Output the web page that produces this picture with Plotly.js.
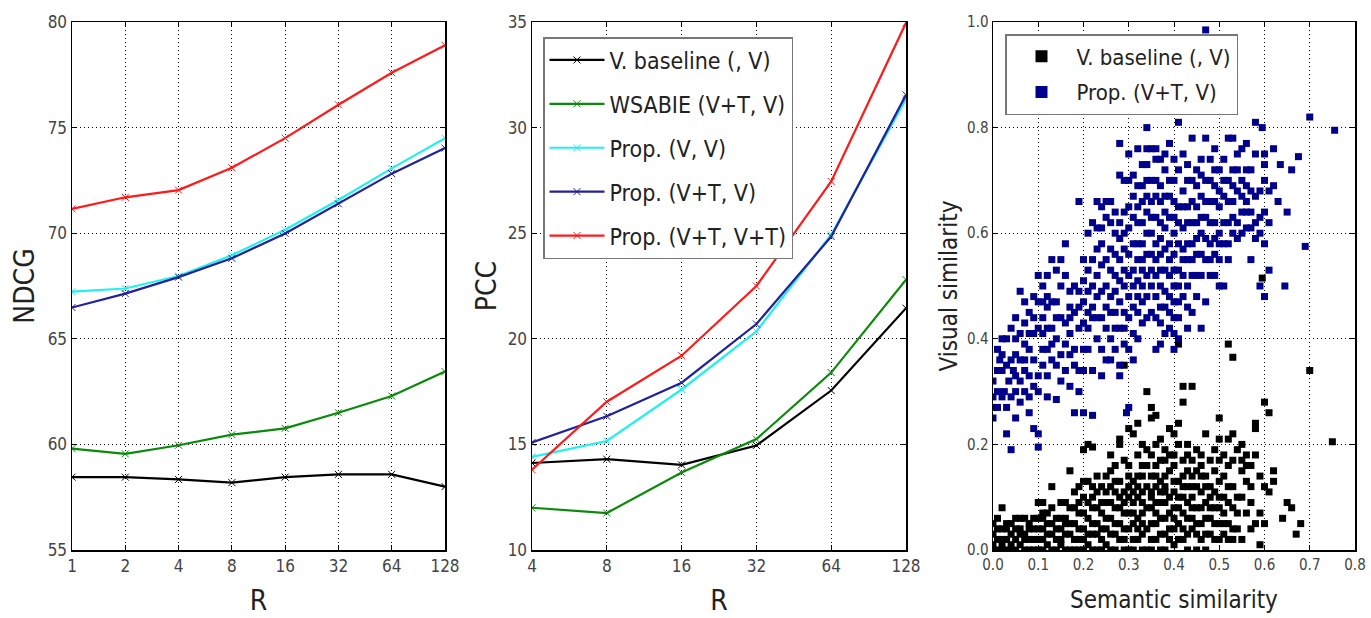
<!DOCTYPE html>
<html>
<head>
<meta charset="utf-8">
<script src="https://cdn.plot.ly/plotly-3.0.1.min.js"></script>
<style>html,body{margin:0;padding:0;background:#fff;}#chart{width:1371px;height:618px;}</style>
</head>
<body>
<div id="chart"></div>
<script>
// ---- Panel 1: NDCG vs R ----
const R1 = [1, 2, 4, 8, 16, 32, 64, 128];
const ndcgBaseline = [58.45, 58.45, 58.34, 58.19, 58.45, 58.58, 58.58, 58.0];
const ndcgWsabie   = [59.8, 59.55, 59.96, 60.46, 60.76, 61.5, 62.29, 63.45];
const ndcgPropVV   = [67.23, 67.38, 67.97, 68.96, 70.16, 71.57, 73.07, 74.5];
const ndcgPropVTV  = [66.48, 67.14, 67.92, 68.81, 69.99, 71.39, 72.82, 74.03];
const ndcgPropVTVT = [71.15, 71.7, 72.04, 73.1, 74.5, 76.08, 77.6, 78.9];

// ---- Panel 2: PCC vs R ----
const R2 = [4, 8, 16, 32, 64, 128];
const pccBaseline = [14.12, 14.3, 14.03, 14.95, 17.55, 21.45];
const pccWsabie   = [12.0, 11.75, 13.67, 15.25, 18.4, 22.8];
const pccPropVV   = [14.41, 15.16, 17.6, 20.35, 24.93, 31.36];
const pccPropVTV  = [15.09, 16.33, 17.92, 20.7, 24.84, 31.55];
const pccPropVTVT = [13.8, 17.02, 19.2, 22.5, 27.45, 34.96];

const seriesNames = ["V. baseline (, V)", "WSABIE (V+T, V)", "Prop. (V, V)", "Prop. (V+T, V)", "Prop. (V+T, V+T)"];
const seriesColors = ["#000000", "#0a8a0a", "#22f0f0", "#22229a", "#ff1a1a"];

const xTicks1 = ["1", "2", "4", "8", "16", "32", "64", "128"];
const xTicks2 = ["4", "8", "16", "32", "64", "128"];

// ---- Panel 3: scatter (semantic similarity, visual similarity) ----
const baselinePoints = [
 [0.75,0.205],[0.70,0.34],[0.595,0.515],[0.52,0.39],[0.53,0.365],[0.41,0.39],[0.29,0.35],[0.60,0.28],[0.61,0.26],
 [0.58,0.24],[0.58,0.23],[0.50,0.25],[0.44,0.31],[0.42,0.31],[0.42,0.28],[0.34,0.30],[0.35,0.27],[0.36,0.255],[0.35,0.25],
 [0.67,0.03],[0.68,0.05],[0.66,0.08],[0.65,0.09],[0.64,0.06],[0.62,0.13],[0.62,0.15],[0.61,0.11],[0.60,0.12],[0.59,0.07],
 [0.60,0.05],[0.59,0.01],[0.57,0.04],[0.58,0.05],[0.02,0.08],[0.10,0.09],[0.11,0.09],[0.17,0.15],[0.20,0.19],[0.21,0.20],
 [0.22,0.195],[0.23,0.14],[0.26,0.18],[0.28,0.20],[0.28,0.21],[0.30,0.23],[0.31,0.22],[0.32,0.24],[0.33,0.20],[0.37,0.21],
 [0.38,0.17],[0.39,0.23],[0.40,0.22],[0.41,0.24],[0.43,0.20],[0.45,0.19],[0.46,0.18],[0.47,0.22],[0.48,0.17],[0.50,0.21],
 [0.51,0.14],[0.52,0.21],[0.53,0.22],[0.54,0.19],[0.55,0.20],[0.56,0.18],[0.57,0.16],[0.55,0.15],[0.52,0.16],[0.50,0.17],
 [0.49,0.15],[0.47,0.14],[0.45,0.15],[0.44,0.17],[0.42,0.14],[0.40,0.16],[0.38,0.12],[0.36,0.16],[0.35,0.14],[0.33,0.16],
 [0.31,0.13],[0.29,0.17],[0.27,0.13],[0.25,0.11],
 [0.00,0.01],[0.00,0.03],[0.01,0.02],[0.01,0.00],[0.02,0.04],[0.02,0.01],[0.03,0.02],[0.03,0.05],[0.04,0.00],[0.04,0.03],
 [0.05,0.06],[0.05,0.02],[0.06,0.04],[0.06,0.01],[0.07,0.03],[0.07,0.06],[0.08,0.02],[0.08,0.05],[0.09,0.00],[0.09,0.04],
 [0.10,0.06],[0.10,0.02],[0.11,0.04],[0.11,0.07],[0.12,0.01],[0.12,0.05],[0.13,0.03],[0.13,0.08],[0.14,0.06],[0.14,0.02],
 [0.15,0.04],[0.15,0.09],[0.16,0.00],[0.16,0.06],[0.17,0.03],[0.17,0.08],[0.18,0.05],[0.18,0.11],[0.19,0.02],[0.19,0.07],
 [0.20,0.04],[0.20,0.10],[0.21,0.06],[0.21,0.01],[0.22,0.08],[0.22,0.03],[0.23,0.05],[0.23,0.11],[0.24,0.07],[0.24,0.02],
 [0.25,0.09],[0.25,0.04],[0.26,0.06],[0.26,0.12],[0.27,0.03],[0.27,0.08],[0.28,0.10],[0.28,0.05],[0.29,0.00],[0.29,0.07],
 [0.30,0.12],[0.30,0.04],[0.31,0.09],[0.31,0.02],[0.32,0.06],[0.32,0.14],[0.33,0.11],[0.33,0.03],[0.34,0.08],[0.34,0.16],
 [0.35,0.05],[0.35,0.11],[0.36,0.09],[0.36,0.02],[0.37,0.13],[0.37,0.06],[0.38,0.09],[0.38,0.03],[0.39,0.15],[0.39,0.07],
 [0.40,0.11],[0.40,0.04],[0.41,0.08],[0.41,0.13],[0.42,0.02],[0.42,0.10],[0.43,0.06],[0.43,0.15],[0.44,0.12],[0.44,0.04],
 [0.45,0.08],[0.45,0.00],[0.46,0.11],[0.46,0.05],[0.47,0.09],[0.47,0.03],[0.48,0.12],[0.48,0.06],[0.49,0.08],[0.49,0.02],
 [0.50,0.10],[0.50,0.05],[0.51,0.07],[0.51,0.03],[0.52,0.09],[0.53,0.04],[0.53,0.12],[0.54,0.07],[0.55,0.10],[0.55,0.02],
 [0.56,0.13],[0.57,0.09],
 [0.02,0.02],[0.03,0.00],[0.05,0.00],[0.06,0.03],[0.08,0.00],[0.10,0.00],[0.11,0.02],[0.12,0.03],[0.14,0.00],[0.15,0.01],
 [0.16,0.03],[0.17,0.00],[0.18,0.02],[0.19,0.04],[0.20,0.00],[0.20,0.07],[0.21,0.03],[0.22,0.05],[0.23,0.00],[0.24,0.04],
 [0.25,0.01],[0.26,0.03],[0.27,0.05],[0.28,0.02],[0.29,0.04],[0.30,0.07],[0.31,0.05],[0.32,0.02],[0.33,0.07],[0.34,0.04],
 [0.35,0.08],[0.36,0.05],[0.37,0.09],[0.38,0.06],[0.39,0.04],[0.40,0.08],[0.41,0.05],[0.42,0.07],[0.43,0.03],[0.44,0.08],
 [0.13,0.12],[0.16,0.09],[0.19,0.12],[0.21,0.13],[0.24,0.12],[0.27,0.16],[0.28,0.13],[0.30,0.16],[0.32,0.18],[0.34,0.19],
 [0.36,0.20],[0.38,0.19],[0.40,0.18],[0.42,0.17],[0.44,0.14],[0.46,0.14],[0.48,0.10],[0.50,0.13],[0.36,0.12],[0.38,0.14],
 [0.31,0.11],[0.29,0.11],[0.35,0.02],[0.40,0.01],[0.45,0.03],[0.47,0.00],[0.52,0.02],[0.54,0.04],[0.43,0.00],[0.37,0.00],
 [0.33,0.00],
 [0.00,0.00],[0.00,0.05],[0.01,0.04],[0.01,0.06],[0.02,0.00],[0.03,0.04],[0.04,0.05],[0.04,0.01],[0.05,0.04],[0.06,0.06],
 [0.07,0.00],[0.07,0.02],[0.08,0.04],[0.09,0.02],[0.09,0.06],[0.10,0.04],[0.11,0.00],[0.11,0.06],[0.12,0.07],[0.13,0.00],
 [0.13,0.05],[0.14,0.04],[0.15,0.06],[0.15,0.02],[0.16,0.05],[0.17,0.05],[0.18,0.00],[0.18,0.08],[0.19,0.00],[0.19,0.09],
 [0.20,0.02],[0.21,0.09],[0.22,0.00],[0.22,0.10],[0.23,0.03],[0.23,0.08],[0.24,0.00],[0.24,0.09],[0.25,0.06],[0.26,0.00],
 [0.26,0.09],[0.27,0.00],[0.27,0.11],[0.28,0.08],[0.29,0.02],[0.29,0.09],[0.30,0.00],[0.30,0.10],[0.31,0.00],[0.31,0.07],
 [0.32,0.04],[0.32,0.10],[0.33,0.05],[0.33,0.09],[0.34,0.00],[0.34,0.12],[0.35,0.00],[0.35,0.10],[0.36,0.07],[0.36,0.14],
 [0.37,0.03],[0.37,0.11],[0.38,0.00],[0.38,0.11],[0.39,0.02],[0.39,0.10],[0.40,0.06],[0.40,0.13],[0.41,0.02],[0.41,0.10],
 [0.42,0.04],[0.42,0.12],[0.43,0.09],[0.43,0.12],[0.44,0.06],[0.44,0.10],[0.45,0.05],[0.45,0.12],[0.46,0.08],[0.46,0.02],
 [0.47,0.06],[0.47,0.12],[0.48,0.03],[0.48,0.08],[0.49,0.05],[0.49,0.11],[0.50,0.02],[0.50,0.08],[0.51,0.05],[0.51,0.10],
 [0.52,0.05],[0.52,0.12],[0.53,0.02],[0.53,0.08],[0.54,0.10],[0.56,0.07],[0.56,0.16],[0.57,0.12],[0.58,0.18],[0.59,0.14],
 [0.55,0.17],[0.53,0.17],[0.51,0.18],[0.49,0.19],[0.46,0.16],[0.43,0.18],[0.41,0.20],[0.39,0.18],[0.37,0.17],[0.35,0.18],
 [0.33,0.14],[0.32,0.12],[0.30,0.14],[0.26,0.15],[0.25,0.14],[0.22,0.12],[0.20,0.13]
];

const propPoints = [
 [0.47,0.985],[0.70,0.82],[0.755,0.795],[0.58,0.81],[0.595,0.80],[0.41,0.81],[0.34,0.80],[0.69,0.575],[0.645,0.50],
 [0.60,0.48],[0.59,0.50],[0.66,0.72],[0.675,0.745],[0.65,0.64],[0.63,0.66],[0.62,0.76],[0.62,0.69],[0.60,0.73],[0.635,0.73],
 [0.00,0.25],[0.00,0.32],[0.01,0.34],[0.03,0.22],[0.04,0.19],[0.10,0.195],[0.09,0.23],[0.10,0.22],[0.01,0.27],[0.02,0.29],
 [0.05,0.25],[0.06,0.32],[0.07,0.34],[0.04,0.36],[0.02,0.37],[0.03,0.40],[0.05,0.40],[0.06,0.41],[0.08,0.38],[0.09,0.44],
 [0.10,0.42],[0.11,0.47],[0.10,0.52],[0.11,0.50],[0.12,0.48],[0.13,0.55],[0.14,0.47],[0.15,0.50],[0.15,0.44],[0.16,0.58],
 [0.12,0.38],[0.13,0.36],[0.14,0.40],[0.15,0.37],[0.10,0.33],[0.10,0.30],[0.08,0.29],[0.07,0.30],[0.08,0.26],[0.12,0.29],
 [0.14,0.285],[0.17,0.31],[0.18,0.26],[0.20,0.26],[0.22,0.255],[0.19,0.30],[0.20,0.38],[0.19,0.34],[0.22,0.34],[0.24,0.33],
 [0.25,0.36],[0.06,0.49],[0.07,0.47],[0.035,0.32],[0.045,0.34],[0.05,0.30],[0.025,0.30],[0.015,0.36],[0.09,0.36],[0.11,0.41],
 [0.13,0.42],[0.16,0.43],[0.17,0.41],[0.18,0.45],[0.18,0.50],[0.19,0.49],[0.20,0.47],[0.21,0.53],[0.21,0.45],[0.22,0.50],
 [0.23,0.48],[0.20,0.55],[0.19,0.66],[0.21,0.60],[0.22,0.62],[0.24,0.65],[0.23,0.66],[0.25,0.66],[0.26,0.62],[0.24,0.58],
 [0.25,0.55],[0.23,0.52],[0.24,0.44],[0.25,0.46],[0.26,0.45],[0.27,0.49],[0.27,0.52],[0.28,0.55],[0.28,0.47],[0.29,0.50],
 [0.29,0.57],[0.26,0.40],[0.27,0.38],[0.28,0.42],[0.29,0.39],[0.30,0.44],[0.31,0.41],[0.30,0.27],[0.295,0.26],[0.28,0.35],
 [0.28,0.33],
 [0.30,0.48],[0.31,0.53],[0.31,0.58],[0.30,0.61],[0.32,0.62],[0.32,0.55],[0.33,0.50],[0.33,0.47],[0.33,0.66],[0.32,0.69],
 [0.33,0.73],[0.32,0.76],[0.30,0.75],[0.28,0.77],[0.28,0.71],[0.31,0.71],[0.34,0.70],[0.34,0.64],[0.35,0.60],[0.35,0.56],
 [0.34,0.52],[0.35,0.45],[0.36,0.48],[0.36,0.58],[0.36,0.63],[0.37,0.66],[0.36,0.70],[0.36,0.76],[0.37,0.74],[0.38,0.72],
 [0.38,0.67],[0.38,0.61],[0.37,0.56],[0.38,0.53],[0.38,0.49],[0.37,0.43],[0.36,0.38],[0.39,0.45],[0.39,0.55],[0.39,0.63],
 [0.40,0.66],[0.40,0.60],[0.40,0.56],[0.40,0.50],[0.40,0.44],[0.41,0.40],[0.40,0.41],[0.41,0.47],[0.41,0.53],[0.42,0.57],
 [0.41,0.62],[0.42,0.65],[0.41,0.72],[0.42,0.75],[0.43,0.70],[0.43,0.62],[0.43,0.55],[0.43,0.50],[0.43,0.42],[0.44,0.45],
 [0.44,0.58],[0.44,0.66],[0.45,0.72],[0.45,0.69],[0.45,0.62],[0.45,0.56],[0.46,0.52],[0.46,0.60],[0.46,0.67],[0.47,0.78],
 [0.47,0.70],[0.47,0.63],[0.47,0.55],[0.47,0.47],[0.46,0.42],[0.48,0.52],[0.48,0.58],[0.48,0.66],[0.48,0.74],[0.49,0.76],
 [0.49,0.69],[0.49,0.62],[0.49,0.56],[0.50,0.50],[0.50,0.60],[0.50,0.65],[0.50,0.72],[0.51,0.74],[0.51,0.67],[0.51,0.58],
 [0.51,0.50],[0.52,0.55],[0.52,0.62],[0.52,0.70],[0.52,0.78],[0.53,0.78],[0.53,0.72],[0.53,0.66],[0.53,0.60],[0.54,0.62],
 [0.54,0.68],[0.54,0.75],[0.55,0.70],[0.55,0.64],[0.55,0.60],[0.56,0.66],[0.56,0.61],[0.56,0.72],[0.57,0.68],[0.57,0.61],
 [0.57,0.55],[0.58,0.62],[0.58,0.67],[0.58,0.75],[0.59,0.63],[0.60,0.58],[0.61,0.53],[0.61,0.62],[0.61,0.68],[0.60,0.70],
 [0.55,0.76],[0.56,0.77],[0.44,0.78],[0.43,0.73],[0.40,0.74],[0.39,0.77],[0.35,0.76],[0.34,0.76],[0.36,0.74],[0.29,0.64],
 [0.29,0.70],[0.27,0.60],[0.26,0.57],[0.25,0.50],[0.24,0.49],[0.23,0.44],[0.22,0.46],[0.21,0.42],[0.20,0.43],[0.17,0.49],
 [0.17,0.46],[0.16,0.52],[0.15,0.55],[0.14,0.53],[0.13,0.47],[0.12,0.46],[0.12,0.52],[0.11,0.38],[0.09,0.41],[0.08,0.41],
 [0.07,0.39],[0.06,0.36],[0.05,0.37],[0.03,0.35],[0.02,0.34],[0.01,0.30],[0.00,0.29],[0.00,0.27],[0.31,0.36],[0.32,0.40],
 [0.33,0.43],[0.34,0.48],[0.33,0.58],[0.34,0.60],[0.35,0.66],[0.37,0.62],[0.37,0.50],[0.42,0.61],[0.42,0.52],[0.44,0.52],
 [0.45,0.48],[0.43,0.46],[0.38,0.46],[0.39,0.42],[0.40,0.38],[0.46,0.71],[0.48,0.62],[0.50,0.55],[0.49,0.52],
 [0.05,0.33],[0.04,0.29],[0.03,0.27],[0.06,0.28],[0.07,0.36],[0.08,0.33],[0.09,0.31],[0.11,0.35],[0.12,0.33],[0.13,0.39],
 [0.14,0.44],[0.16,0.39],[0.17,0.44],[0.18,0.38],[0.19,0.42],[0.19,0.46],[0.20,0.51],[0.21,0.49],[0.22,0.44],[0.22,0.55],
 [0.23,0.57],[0.23,0.61],[0.24,0.54],[0.24,0.61],[0.25,0.63],[0.25,0.42],[0.26,0.48],[0.26,0.53],[0.26,0.66],[0.27,0.45],
 [0.27,0.56],[0.27,0.64],[0.28,0.51],[0.28,0.59],[0.28,0.62],[0.29,0.45],[0.29,0.53],[0.29,0.60],[0.30,0.52],[0.30,0.56],
 [0.30,0.65],[0.30,0.70],[0.31,0.46],[0.31,0.50],[0.31,0.63],[0.31,0.67],[0.32,0.45],[0.32,0.51],[0.32,0.58],[0.32,0.65],
 [0.33,0.53],[0.33,0.55],[0.33,0.62],[0.33,0.69],[0.34,0.56],[0.34,0.67],[0.34,0.73],[0.35,0.50],[0.35,0.53],[0.35,0.63],
 [0.35,0.70],[0.36,0.52],[0.36,0.55],[0.36,0.67],[0.37,0.46],[0.37,0.53],[0.37,0.59],[0.37,0.69],[0.38,0.57],[0.38,0.64],
 [0.38,0.75],[0.39,0.48],[0.39,0.52],[0.39,0.58],[0.39,0.67],[0.39,0.70],[0.40,0.47],[0.40,0.53],[0.40,0.63],[0.40,0.70],
 [0.41,0.44],[0.41,0.50],[0.41,0.58],[0.41,0.65],[0.42,0.48],[0.42,0.55],[0.42,0.68],[0.43,0.58],[0.43,0.65],[0.44,0.55],
 [0.44,0.62],[0.44,0.70],[0.45,0.52],[0.45,0.59],[0.45,0.65],[0.46,0.56],[0.46,0.63],[0.46,0.74],[0.47,0.59],[0.47,0.66],
 [0.48,0.55],[0.48,0.70],[0.49,0.59],[0.49,0.66],[0.49,0.72],[0.50,0.58],[0.50,0.68],[0.51,0.62],[0.51,0.70],[0.52,0.58],
 [0.52,0.66],[0.53,0.63],[0.53,0.69],[0.54,0.59],[0.54,0.72],[0.55,0.67],[0.56,0.64],[0.56,0.69],[0.57,0.64],[0.57,0.72],
 [0.58,0.59],[0.59,0.60],[0.59,0.68],[0.60,0.64],[0.60,0.75],[0.37,0.39],[0.38,0.41],[0.36,0.44],[0.34,0.44],[0.32,0.48],
 [0.30,0.38],[0.29,0.42],[0.27,0.42],[0.26,0.36],[0.24,0.38],[0.23,0.40],[0.21,0.38],[0.20,0.34],[0.18,0.35],[0.17,0.37],
 [0.16,0.34],[0.15,0.32],[0.14,0.35],[0.12,0.42],[0.11,0.44],[0.09,0.48],[0.10,0.47],[0.08,0.45],[0.07,0.43],[0.05,0.44],
 [0.04,0.42],[0.02,0.40],[0.01,0.38]
];
const scatterNames = ["V. baseline (, V)", "Prop. (V+T, V)"];
const scatterColors = ["#000000", "#00008b"];

// ---------- build ----------
const FONT = "DejaVu Sans Condensed, DejaVu Sans, sans-serif";
const traces = [];
const ndcgSeries = [ndcgBaseline, ndcgWsabie, ndcgPropVV, ndcgPropVTV, ndcgPropVTVT];
const pccSeries = [pccBaseline, pccWsabie, pccPropVV, pccPropVTV, pccPropVTVT];

ndcgSeries.forEach((ys, i) => {
  traces.push({
    x: R1, y: ys, xaxis: "x", yaxis: "y", type: "scatter", mode: "lines+markers",
    name: seriesNames[i], showlegend: false,
    line: {color: seriesColors[i], width: 2.2},
    marker: {symbol: "x-thin", size: 7, line: {color: seriesColors[i], width: 1}}
  });
});
pccSeries.forEach((ys, i) => {
  traces.push({
    x: R2, y: ys, xaxis: "x2", yaxis: "y2", type: "scatter", mode: "lines+markers",
    name: seriesNames[i], legend: "legend", legendgroup: "g" + i,
    line: {color: seriesColors[i], width: 2.2},
    marker: {symbol: "x-thin", size: 7, line: {color: seriesColors[i], width: 1}}
  });
});
[baselinePoints, propPoints].forEach((pts, i) => {
  traces.push({
    x: pts.map(p => p[0]), y: pts.map(p => p[1]), xaxis: "x3", yaxis: "y3",
    type: "scatter", mode: "markers", name: scatterNames[i],
    legend: "legend2", legendgroup: "s" + i,
    marker: {symbol: "square", size: 7, color: scatterColors[i], line: {width: 0}}
  });
});

const tickFont = {family: FONT, size: 17, color: "#444"};
function axisBase(extra) {
  return Object.assign({
    showline: true, linecolor: "#000", linewidth: 1.5, mirror: "ticks",
    ticks: "inside", ticklen: 5, tickcolor: "#000", tickwidth: 1,
    showgrid: true, gridcolor: "#000", gridwidth: 1, griddash: "1px,3px",
    zeroline: false, tickfont: tickFont, fixedrange: true
  }, extra);
}

const yTop = 1 - 22/618, yBot = 1 - 550/618;
const layout = {
  width: 1371, height: 618,
  margin: {l: 0, r: 0, t: 0, b: 0},
  paper_bgcolor: "#fff", plot_bgcolor: "#fff",
  font: {family: FONT, color: "#222"},
  xaxis: axisBase({domain: [72/1371, 445/1371], anchor: "y", type: "log",
    range: [Math.log10(1), Math.log10(128)], tickvals: R1, ticktext: xTicks1,
    title: {text: "R", font: {family: FONT, size: 28, color: "#222"}, standoff: 15}}),
  yaxis: axisBase({domain: [yBot, yTop], anchor: "x", range: [55, 80], dtick: 5,
    title: {text: "NDCG", font: {family: FONT, size: 28, color: "#222"}, standoff: 5}}),
  xaxis2: axisBase({domain: [532/1371, 906/1371], anchor: "y2", type: "log",
    range: [Math.log10(4), Math.log10(128)], tickvals: R2, ticktext: xTicks2,
    title: {text: "R", font: {family: FONT, size: 28, color: "#222"}, standoff: 15}}),
  yaxis2: axisBase({domain: [yBot, yTop], anchor: "x2", range: [10, 35], dtick: 5,
    title: {text: "PCC", font: {family: FONT, size: 28, color: "#222"}, standoff: 3}}),
  xaxis3: axisBase({domain: [993/1371, 1355/1371], anchor: "y3", range: [0, 0.8], dtick: 0.1,
    tickformat: ".1f", tickfont: {family: FONT, size: 15, color: "#444"},
    title: {text: "Semantic similarity", font: {family: FONT, size: 24, color: "#222"}, standoff: 18}}),
  yaxis3: axisBase({domain: [yBot, yTop], anchor: "x3", range: [0, 1], dtick: 0.2,
    tickformat: ".1f", tickfont: {family: FONT, size: 15, color: "#444"},
    title: {text: "Visual similarity", font: {family: FONT, size: 24, color: "#222"}, standoff: 2}}),
  legend: {x: 543/1371, y: 1 - 37/618, xanchor: "left", yanchor: "top",
    bgcolor: "#fff", bordercolor: "#777", borderwidth: 1.5, itemwidth: 55,
    font: {family: FONT, size: 23, color: "#222"}, tracegroupgap: 11, traceorder: "grouped"},
  legend2: {x: 1005/1371, y: 1 - 34/618, xanchor: "left", yanchor: "top",
    bgcolor: "#fff", bordercolor: "#777", borderwidth: 1.5, itemwidth: 60,
    font: {family: FONT, size: 22, color: "#222"}, tracegroupgap: 4, traceorder: "grouped",
    itemsizing: "constant"},
  showlegend: true
};

Plotly.newPlot("chart", traces, layout, {displayModeBar: false, staticPlot: true});
</script>
</body>
</html>
